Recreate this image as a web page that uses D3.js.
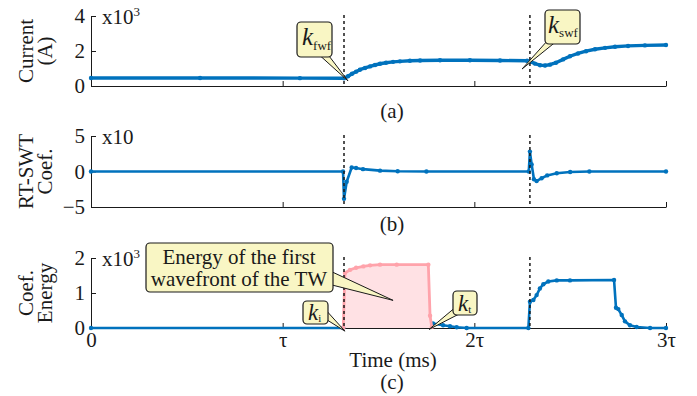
<!DOCTYPE html>
<html><head><meta charset="utf-8">
<script src="https://cdn.jsdelivr.net/npm/d3@7"></script>
</head>
<body style="margin:0;background:#fff">
<svg id="c" width="697" height="396" font-family="Liberation Serif" style="display:block;background:#fff"></svg>
<script>
// ---------- data (time in units of tau) ----------
const xTickValues = [0, 1, 2, 3];
const xTickLabels = ["0", "\u03c4", "2\u03c4", "3\u03c4"];
const eventTimes = [1.32, 2.29];

// (a) current, x10^3 A
const currentT = [0, 0.569, 1.090, 1.320, 1.341, 1.362, 1.383, 1.403, 1.430, 1.456, 1.482, 1.508, 1.539, 1.576, 1.612, 1.664, 1.717, 1.821, 1.977, 2.134, 2.275, 2.296, 2.316, 2.343, 2.369, 2.395, 2.426, 2.463, 2.499, 2.541, 2.583, 2.630, 2.682, 2.734, 2.802, 2.890, 3.000];
const currentV = [0.46, 0.46, 0.45, 0.44, 0.56, 0.70, 0.82, 0.93, 1.03, 1.12, 1.20, 1.27, 1.33, 1.38, 1.41, 1.44, 1.46, 1.47, 1.47, 1.46, 1.44, 1.38, 1.28, 1.19, 1.17, 1.22, 1.33, 1.52, 1.70, 1.86, 1.99, 2.10, 2.18, 2.24, 2.29, 2.32, 2.34];

// (b) RT-SWT coefficient, x10
const swtT = [0, 1.315, 1.320, 1.334, 1.360, 1.383, 1.419, 1.508, 1.600, 1.750, 2.284, 2.290, 2.299, 2.311, 2.325, 2.351, 2.380, 2.430, 2.500, 2.600, 3.000];
const swtV = [0, 0, -3.85, -1.45, 0.56, 0.50, 0.33, 0.12, 0.04, 0, 0, 2.8, 1.0, -1.1, -1.35, -0.95, -0.55, -0.25, -0.08, 0, 0];

// (c) coefficient energy, x10^3
const firstWaveT = [1.316, 1.325, 1.351, 1.383, 1.421, 1.456, 1.508, 1.595, 1.760, 1.769, 1.778];
const firstWaveV = [0, 1.57, 1.66, 1.72, 1.76, 1.79, 1.81, 1.81, 1.81, 0.35, 0.03];
const energyT = [0, 1.316, 1.5, 1.784, 1.837, 1.873, 1.908, 1.960, 2.282, 2.290, 2.308, 2.325, 2.342, 2.360, 2.386, 2.430, 2.499, 2.729, 2.739, 2.751, 2.769, 2.786, 2.812, 2.847, 2.917, 3.000];
const energyV = [0, 0, null, 0.13, 0.08, 0.05, 0.02, 0, 0, 0.75, 0.80, 0.94, 1.13, 1.25, 1.33, 1.36, 1.36, 1.37, 0.58, 0.54, 0.37, 0.19, 0.08, 0.03, 0, 0];

const yTicksA = [0, 2, 4], yTicksB = [-5, 0, 5], yTicksC = [0, 1, 2];

// ---------- layout ----------
const FONT = "Liberation Serif";
const svg = d3.select("#c");
const BLUE = "#0072BD", PINK_LINE = "#ffa3ab", PINK_FILL = "#ffe1e4", YEL = "#f9f6c4", INK = "#1a1a1a";
const FS = 21;
const x = d3.scaleLinear().domain([0, 3]).range([91, 666]);

const panels = [
  {id:"a", top:16, bottom:86, dom:[0,4], ticks:yTicksA, lab:["Current","(A)"], labX:[33,52], exp:"3", cap:"(a)", capY:118},
  {id:"b", top:136, bottom:207, dom:[-5,5], ticks:yTicksB, lab:["RT-SWT","Coef."], labX:[33,52], exp:null, cap:"(b)", capY:231},
  {id:"c", top:258, bottom:328, dom:[0,2], ticks:yTicksC, lab:["Coef.","Energy"], labX:[33,52], exp:"3", cap:"(c)", capY:389}
];
panels.forEach(p => { p.y = d3.scaleLinear().domain(p.dom).range([p.bottom, p.top]); });

function zip(T, V){ return T.map((t,i)=>({t, v:V[i]})); }
function txt(sel){ return sel.append("text").attr("font-family", FONT).attr("font-size", FS).attr("fill", INK); }

panels.forEach((p, pi) => {
  const g = svg.append("g");
  const ya = d3.axisLeft(p.y).tickValues(p.ticks).tickFormat(d3.format("d")).tickSizeInner(-5).tickSizeOuter(0).tickPadding(6);
  const yg = g.append("g").attr("transform", `translate(${x(0)},0)`).call(ya);
  const xa = d3.axisBottom(x).tickValues(xTickValues).tickSizeInner(-5).tickSizeOuter(0).tickPadding(4)
    .tickFormat((d,i) => pi === 2 ? xTickLabels[i] : "");
  const xg = g.append("g").attr("transform", `translate(0,${p.bottom})`).call(xa);
  [yg, xg].forEach(a => {
    a.attr("font-family", FONT).attr("font-size", FS);
    a.selectAll("path,line").attr("stroke", INK).attr("stroke-width", 1);
    a.selectAll("text").attr("font-family", FONT).attr("font-size", FS).attr("fill", INK);
  });
  const ex = txt(g).attr("x", 102).attr("y", p.top + 8);
  ex.append("tspan").text("x10");
  if (p.exp) ex.append("tspan").attr("font-size", 13).attr("dy", -8).text(p.exp);
  p.lab.forEach((s, k) => {
    txt(g).attr("transform", `translate(${p.labX[k]},${(p.top+p.bottom)/2}) rotate(-90)`)
      .attr("text-anchor", "middle").text(s);
  });
  txt(g).attr("x", 392).attr("y", p.capY).attr("text-anchor", "middle").text(p.cap);
  p.g = g;
});

txt(svg).attr("x", 393).attr("y", 367).attr("text-anchor", "middle").text("Time (ms)");

// ---------- series ----------
function drawSeries(p, data, color, w, r){
  const line = d3.line().defined(d => d.v !== null).x(d => x(d.t)).y(d => p.y(d.v));
  p.g.append("path").datum(data).attr("d", line).attr("fill", "none").attr("stroke", color).attr("stroke-width", w).attr("stroke-linejoin","round");
  p.g.append("g").selectAll("circle").data(data.filter(d => d.v !== null)).join("circle")
    .attr("cx", d => x(d.t)).attr("cy", d => p.y(d.v)).attr("r", r).attr("fill", color);
}
const [pa, pb, pc] = panels;

const fw = zip(firstWaveT, firstWaveV);
pc.g.append("path").datum(fw).attr("d", d3.area().x(d => x(d.t)).y0(pc.y(0)).y1(d => pc.y(d.v)))
  .attr("fill", PINK_FILL).attr("stroke", "none");

drawSeries(pa, zip(currentT, currentV), BLUE, 3.4, 2.2);
drawSeries(pb, zip(swtT, swtV), BLUE, 2.6, 2.2);
drawSeries(pc, zip(energyT, energyV), BLUE, 2.6, 2.2);
drawSeries(pc, fw, PINK_LINE, 2.8, 2.2);

panels.forEach(p => {
  eventTimes.forEach(t => {
    p.g.append("line").attr("x1", x(t)).attr("x2", x(t)).attr("y1", p.top - 1).attr("y2", p.bottom)
      .attr("stroke", INK).attr("stroke-width", 1.5).attr("stroke-dasharray", "3,3");
  });
});

// ---------- callouts ----------
function callout(box, base, tip, draw){
  const g = svg.append("g");
  g.append("path").attr("d", `M${base[0][0]},${base[0][1]}L${tip[0]},${tip[1]}L${base[1][0]},${base[1][1]}Z`)
    .attr("fill", YEL).attr("stroke", INK).attr("stroke-width", 1);
  g.append("rect").attr("x", box[0]).attr("y", box[1]).attr("width", box[2]).attr("height", box[3])
    .attr("rx", 4).attr("fill", YEL).attr("stroke", INK).attr("stroke-width", 1.2);
  draw(g);
}
function kLabel(g, xk, yb, kSize, sub, subSize, subDy){
  const t = txt(g).attr("x", xk).attr("y", yb);
  t.append("tspan").attr("font-style", "italic").attr("font-size", kSize).text("k");
  t.append("tspan").attr("font-size", subSize).attr("dy", subDy).text(sub);
}
callout([297, 22, 35, 35], [[316, 52], [326, 52]], [x(1.341), pa.y(0.29)], g => kLabel(g, 302, 45, 25, "fwf", 13, 5));
callout([545, 10, 35, 34], [[548, 40], [558, 40]], [x(2.249), pa.y(0.97)], g => kLabel(g, 548, 33, 25, "swf", 13, 4));
callout([146, 243, 187, 49], [[328, 270], [328, 284]], [x(1.576), pc.y(0.79)], g => {
  txt(g).attr("x", 239).attr("y", 264).attr("text-anchor", "middle").text("Energy of the first");
  txt(g).attr("x", 239).attr("y", 286).attr("text-anchor", "middle").text("wavefront of the TW");
});
callout([303, 301, 25, 23], [[324, 308], [324, 318]], [x(1.325), pc.y(-0.09)], g => kLabel(g, 308, 320, 23, "i", 11, 2));
callout([453, 291, 24, 24], [[457, 306], [461, 313]], [x(1.764), pc.y(-0.04)], g => kLabel(g, 458, 311, 23, "t", 11, 2));
</script>
</body></html>
